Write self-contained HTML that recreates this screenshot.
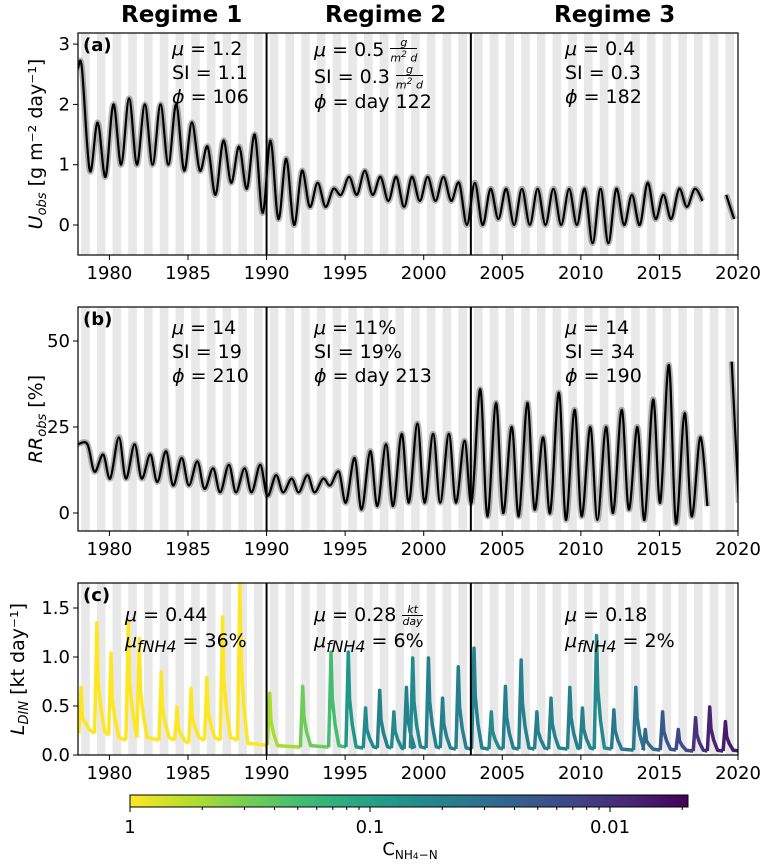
<!DOCTYPE html>
<html><head><meta charset="utf-8"><style>
body{margin:0;background:#fff;width:768px;height:868px;overflow:hidden;font-family:"DejaVu Sans","Liberation Sans",sans-serif}
#wrap{position:relative;width:768px;height:868px}
svg{position:absolute;left:0;top:0;font-family:"DejaVu Sans","Liberation Sans",sans-serif}
.ann{position:absolute;font-size:19px;line-height:24px;color:#000;white-space:nowrap}
.fr{display:inline-block;vertical-align:middle;text-align:center;font-size:11px;line-height:11px;font-style:italic}
.fr span{display:block}
.fr .n{border-bottom:1px solid #000;padding:0 1px}
.title{position:absolute;font-size:23px;font-weight:bold;top:2px}
</style></head><body>
<div id="wrap">
<svg id="chart" width="768" height="868"></svg>
<div class="title" style="left:121px">Regime 1</div>
<div class="title" style="left:325px">Regime 2</div>
<div class="title" style="left:554px">Regime 3</div>

<div class="ann" style="left:172px;top:37px"><i>μ</i> = 1.2<br>SI = 1.1<br><i>ϕ</i> = 106</div>
<div class="ann" style="left:314px;top:37px"><i>μ</i> = 0.5 <span class="fr"><span class="n">g</span><span>m<sup>2</sup> d</span></span><br>SI = 0.3 <span class="fr"><span class="n">g</span><span>m<sup>2</sup> d</span></span><br><i>ϕ</i> = day 122</div>
<div class="ann" style="left:565px;top:37px"><i>μ</i> = 0.4<br>SI = 0.3<br><i>ϕ</i> = 182</div>

<div class="ann" style="left:172px;top:316px"><i>μ</i> = 14<br>SI = 19<br><i>ϕ</i> = 210</div>
<div class="ann" style="left:314px;top:316px"><i>μ</i> = 11%<br>SI = 19%<br><i>ϕ</i> = day 213</div>
<div class="ann" style="left:565px;top:316px"><i>μ</i> = 14<br>SI = 34<br><i>ϕ</i> = 190</div>

<div class="ann" style="left:125px;top:602px;line-height:26px"><i>μ</i> = 0.44<br><i>μ<sub>fNH4</sub></i> = 36%</div>
<div class="ann" style="left:314px;top:602px;line-height:26px"><i>μ</i> = 0.28 <span class="fr"><span class="n">kt</span><span>day</span></span><br><i>μ<sub>fNH4</sub></i> = 6%</div>
<div class="ann" style="left:565px;top:602px;line-height:26px"><i>μ</i> = 0.18<br><i>μ<sub>fNH4</sub></i> = 2%</div>
</div>
<script>
// ---------- data ----------
const years = [1978,1979,1980,1981,1982,1983,1984,1985,1986,1987,1988,1989,1990,1991,1992,1993,1994,1995,1996,1997,1998,1999,2000,2001,2002,2003,2004,2005,2006,2007,2008,2009,2010,2011,2012,2013,2014,2015,2016,2017,2018,2019];
const uPeak   = [2.6,1.7,2.0,2.1,2.0,2.0,2.0,1.7,1.3,1.4,1.3,1.5,1.4,1.1,0.9,0.7,0.6,0.8,0.9,0.8,0.8,0.8,0.8,0.8,0.7,0.7,0.6,0.6,0.6,0.6,0.6,0.6,0.6,0.6,0.6,0.5,0.7,0.5,0.6,0.6,0.2,0.5];
const uTrough = [0.9,0.8,1.0,1.0,1.0,1.0,0.9,0.9,0.5,0.7,0.6,0.2,0.1,0.0,0.3,0.3,0.5,0.5,0.5,0.4,0.3,0.4,0.4,0.4,0.0,0.0,0.1,0.0,0.0,0.0,0.0,0.0,-0.3,-0.3,0.0,0.0,0.1,0.1,0.3,0.4,-0.3,0.1];
const rrPeak   = [20,17,22,20,17,18,16,15,13,14,13,14,11,10,11,10,12,16,18,20,23,26,23,23,21,36,32,25,32,22,35,30,25,25,30,25,33,43,29,22,12,44];
const rrTrough = [12,10,10,10,9,8,8,7,6,6,6,5,6,6,6,8,3,1,2,2,3,3,3,3,3,-1,0,-1,1,0,-2,-1,-2,0,1,-2,3,-3,-1,2,-2,3];
const lYears = [1978.2,1979.2,1980.1,1981.2,1981.9,1983.3,1984.3,1985.2,1986.2,1987.2,1988.3,1990.2,1992.3,1994.1,1995.2,1996.3,1997.2,1998.1,1998.9,1999.3,2000.3,2001.2,2002.2,2003.2,2004.3,2005.2,2006.2,2007.2,2008.1,2009.3,2010.1,2011.0,2012.1,2013.5,2014.1,2015.2,2016.2,2017.3,2018.2,2019.2];
const lPeak = [0.69,1.35,1.04,1.35,1.19,0.85,0.49,0.68,0.79,1.41,1.73,0.63,0.70,1.05,1.05,0.48,0.66,0.44,0.69,0.99,0.99,0.58,0.90,1.09,0.44,0.70,0.97,0.44,0.58,0.69,0.48,1.22,0.46,0.69,0.26,0.44,0.26,0.38,0.49,0.34];
const lTrough = [0.22,0.20,0.15,0.18,0.15,0.15,0.12,0.15,0.15,0.15,0.10,0.08,0.08,0.08,0.07,0.07,0.07,0.06,0.07,0.07,0.07,0.06,0.06,0.06,0.06,0.06,0.06,0.06,0.06,0.06,0.06,0.06,0.05,0.05,0.05,0.05,0.04,0.04,0.04,0.04];
const lConc = [1,1,1,1,1,1,1,1,1,1,1,0.5,0.3,0.2,0.08,0.06,0.05,0.06,0.05,0.06,0.05,0.05,0.05,0.05,0.06,0.05,0.05,0.05,0.05,0.05,0.05,0.06,0.04,0.04,0.03,0.02,0.015,0.01,0.008,0.007];
const xTicks = [1980,1985,1990,1995,2000,2005,2010,2015,2020];
const aTicks = [0,1,2,3];
const bTicks = [0,25,50];
const cTicks = [0.0,0.5,1.0,1.5];
const cbTicks = [1,0.1,0.01];
const regimeBreaks = [1990,2003];

// ---------- scales ----------
const X0=78,X1=738;
const xs = y => X0 + (y-1978)*(X1-X0)/42;
const panels = {
 a:{top:33,bot:255,y:v=>225-v*60.3},
 b:{top:307,bot:531,y:v=>513-v*3.44},
 c:{top:583,bot:755,y:v=>755-v*98}
};
const NS="http://www.w3.org/2000/svg";
const svg=document.getElementById('chart');
function mk(tag,attrs,parent){const e=document.createElementNS(NS,tag);for(const k in attrs)e.setAttribute(k,attrs[k]);(parent||svg).appendChild(e);return e;}
const defs=mk('defs',{});
for(const k in panels){const p=panels[k];const cp=mk('clipPath',{id:'clip'+k},defs);mk('rect',{x:X0,y:p.top,width:X1-X0,height:p.bot-p.top},cp);}

function viridis(t){
 const s=[[68,1,84],[72,40,120],[62,74,137],[49,104,142],[38,130,142],[31,158,137],[53,183,121],[109,205,89],[180,222,44],[253,231,37]];
 t=Math.max(0,Math.min(1,t));const f=t*(s.length-1);const i=Math.min(s.length-2,Math.floor(f));const r=f-i;
 const c=s[i].map((v,j)=>Math.round(v+(s[i+1][j]-v)*r));return `rgb(${c[0]},${c[1]},${c[2]})`;}
const concT = c => 1 - (-Math.log10(c))/2.325;

for(const k in panels){
 const p=panels[k];
 const g=mk('g',{'clip-path':`url(#clip${k})`});
 
 
 for(let y=1977;y<2020;y++){
  const r=mk('rect',{x:xs(y+0.2),y:p.top,width:xs(y+0.75)-xs(y+0.2),height:p.bot-p.top,fill:'#e8e8e8'},g);
  
  
 }
 p.g=g;
}

function smooth(pts){
 if(pts.length<2)return '';
 let d='M'+pts[0][0].toFixed(1)+','+pts[0][1].toFixed(1);
 for(let i=0;i<pts.length-1;i++){
  const p0=pts[Math.max(0,i-1)],p1=pts[i],p2=pts[i+1],p3=pts[Math.min(pts.length-1,i+2)];
  const c1=[p1[0]+(p2[0]-p0[0])/6,p1[1]+(p2[1]-p0[1])/6],c2=[p2[0]-(p3[0]-p1[0])/6,p2[1]-(p3[1]-p1[1])/6];
  d+=`C${c1[0].toFixed(1)},${c1[1].toFixed(1)} ${c2[0].toFixed(1)},${c2[1].toFixed(1)} ${p2[0].toFixed(1)},${p2[1].toFixed(1)}`;
 }
 return d;
}
function seasonalPath(peaks,troughs,ph,tp,yf,gapYears){
 const segs=[];let cur=[];
 years.forEach((y,i)=>{
  if(gapYears.includes(y)){if(cur.length)segs.push(cur);cur=[];return;}
  if(i===0)cur.push([xs(1978),yf(peaks[0])]);
  cur.push([xs(y+ph),yf(peaks[i])]);cur.push([xs(y+tp),yf(troughs[i])]);
 });
 if(cur.length)segs.push(cur);
 return segs.map(smooth).join('');
}
function drawSeries(k,peaks,troughs,ph,tp,nm){
 const p=panels[k];
 const d=seasonalPath(peaks,troughs,ph,tp,p.y,[2018]);
 const e=mk('path',{d,fill:'none',stroke:'rgba(0,0,0,0.28)','stroke-width':6,'stroke-linejoin':'round'},p.g);
 
 
 const l=mk('path',{d,fill:'none',stroke:'#000','stroke-width':2.2,'stroke-linejoin':'round'},p.g);
 
 
}
drawSeries('a',uPeak,uTrough,0.25,0.75,'u-obs');
drawSeries('b',rrPeak,rrTrough,0.6,1.05,'rr-obs');
{const yc=panels.c.y;
 lYears.forEach((t,i)=>{
  const next=i<lYears.length-1?lYears[i+1]:2020.3;
  const prevTrough=i>0?lTrough[i-1]:lTrough[0];
  const tr=lTrough[i];
  const d=`M${xs(t-0.15)},${yc(prevTrough)}L${xs(t-0.03)},${yc(lPeak[i]*0.8)}L${xs(t)},${yc(lPeak[i])}L${xs(t+0.08)},${yc(lPeak[i]*0.55)}L${xs(t+0.25)},${yc(tr+(lPeak[i]-tr)*0.25)}L${xs(t+0.5)},${yc(tr*1.2)}L${xs(next-0.15)},${yc(tr)}`;
  const s=mk('path',{d,fill:'none',stroke:viridis(concT(lConc[i])),'stroke-width':3.5,'stroke-linejoin':'round'},panels.c.g);
  
  
 });}

const axNames={a:['U','obs','[g m⁻² day⁻¹]',aTicks,v=>String(v)],b:['RR','obs','[%]',bTicks,v=>String(v)],c:['L','DIN','[kt day⁻¹]',cTicks,v=>v.toFixed(1)]};
for(const k in panels){
 const p=panels[k];
 regimeBreaks.forEach(b=>{const l=mk('line',{x1:xs(b),x2:xs(b),y1:p.top,y2:p.bot,stroke:'#000','stroke-width':2});
  
  });
 const fr=mk('rect',{x:X0,y:p.top,width:X1-X0,height:p.bot-p.top,fill:'none',stroke:'#000','stroke-width':1.2});
 
 
 xTicks.forEach(t=>{
  mk('line',{x1:xs(t),x2:xs(t),y1:p.bot,y2:p.bot+5,stroke:'#000'});
  const tx=mk('text',{x:xs(t),y:p.bot+24,'text-anchor':'middle','font-size':18});tx.textContent=t;
  
  
 });
 const [sym,sub,unit,ticks,fmt]=axNames[k];
 ticks.forEach(t=>{
  const y=p.y(t);mk('line',{x1:X0-5,x2:X0,y1:y,y2:y,stroke:'#000'});
  const tx=mk('text',{x:X0-8,y:y+6,'text-anchor':'end','font-size':18});tx.textContent=fmt(t);
  
  
 });
 const cy=(p.top+p.bot)/2;
 const yl=mk('text',{x:0,y:0,transform:`translate(${k==='c'?24:42},${cy}) rotate(-90)`,'text-anchor':'middle','font-size':19});
 yl.innerHTML=`<tspan font-style="italic">${sym}</tspan><tspan font-style="italic" font-size="13" dy="4">${sub}</tspan><tspan dy="-4"> ${unit}</tspan>`;
 
 
 const pl=mk('text',{x:X0+5,y:p.top+18,'font-size':18,'font-weight':'bold'});pl.textContent='('+k+')';
 
 
}

const CB0=130,CB1=688,CBT=795,CBB=807;
const cbx=c=>CB0+(-Math.log10(c))*240;
const lg=mk('linearGradient',{id:'vir',x1:0,x2:1,y1:0,y2:0},defs);
for(let i=0;i<=10;i++){mk('stop',{offset:i/10,'stop-color':viridis(1-i/10)},lg);}
const cb=mk('rect',{x:CB0,y:CBT,width:CB1-CB0,height:CBB-CBT,fill:'url(#vir)',stroke:'#000','stroke-width':1});


cbTicks.forEach(t=>{
 mk('line',{x1:cbx(t),x2:cbx(t),y1:CBB,y2:CBB+5,stroke:'#000'});
 const tx=mk('text',{x:cbx(t),y:CBB+26,'text-anchor':'middle','font-size':18});tx.textContent=String(t);
 
 
 for(let m=2;m<=9;m++){const x=cbx(t/m);if(x<=CB1)mk('line',{x1:x,x2:x,y1:CBB,y2:CBB+3,stroke:'#000'});}
});
const cbl=mk('text',{x:410,y:855,'text-anchor':'middle','font-size':18});
cbl.innerHTML='C<tspan font-size="12" dy="4">NH<tspan font-size="9">4</tspan>−N</tspan>';


</script>
</body></html>
